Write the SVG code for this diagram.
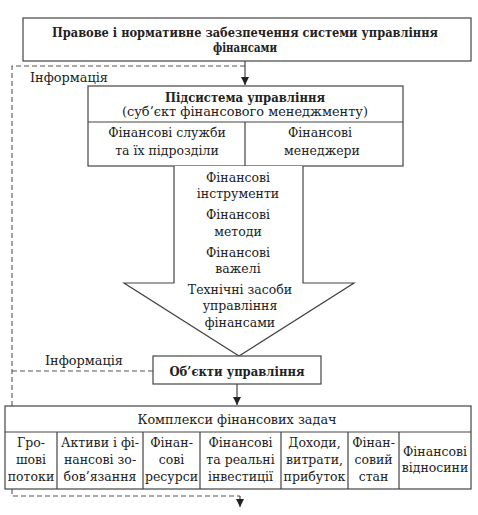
<svg xmlns="http://www.w3.org/2000/svg" width="478" height="515" viewBox="0 0 478 515">
<defs>
<marker id="ah" viewBox="0 0 10 10" refX="10" refY="5" markerWidth="8" markerHeight="8" markerUnits="userSpaceOnUse" orient="auto">
<path d="M0,0 L10,5 L0,10 z" fill="#222"/>
</marker>
<style>
text{font-family:"DejaVu Serif","Liberation Serif",serif;font-size:12.5px;fill:#222;text-anchor:middle}
.b{font-weight:bold}
.l{text-anchor:start}
.box{fill:#fff;stroke:#444;stroke-width:1.2}
.ln{fill:none;stroke:#444;stroke-width:1.2}
.dash{fill:none;stroke:#555;stroke-width:1.1;stroke-dasharray:5,3}
</style>
</defs>
<rect width="478" height="515" fill="#fff"/>

<g id="connectors">
<path class="dash" d="M12,406 V66 H245"/>
<path class="ln" d="M245,61 V85" marker-end="url(#ah)"/>
<path class="dash" d="M12,371 H153"/>
<path class="ln" d="M237,384 V405" marker-end="url(#ah)"/>
<path class="dash" d="M12,489 V496 H240"/>
<path class="ln" d="M240,496 V507" marker-end="url(#ah)"/>
<text class="l" x="30" y="82" textLength="78" lengthAdjust="spacingAndGlyphs">Інформація</text>
<text class="l" x="45" y="365" textLength="78" lengthAdjust="spacingAndGlyphs">Інформація</text>
</g>

<g id="legal">
<rect class="box" x="23" y="18" width="448" height="43"/>
<text class="b" x="245" y="37" textLength="386" lengthAdjust="spacingAndGlyphs">Правове і нормативне забезпечення системи управління</text>
<text class="b" x="245" y="52" textLength="64" lengthAdjust="spacingAndGlyphs">фінансами</text>
</g>

<g id="subsystem">
<rect class="box" x="88" y="86" width="315" height="80"/>
<line class="ln" x1="88" y1="122" x2="403" y2="122"/>
<line class="ln" x1="245" y1="122" x2="245" y2="166"/>
<text class="b" x="245" y="102" textLength="160" lengthAdjust="spacingAndGlyphs">Підсистема управління</text>
<text x="245" y="116" textLength="246" lengthAdjust="spacingAndGlyphs">(суб’єкт фінансового менеджменту)</text>
<text x="167" y="137">Фінансові служби</text>
<text x="167" y="155">та їх підрозділи</text>
<text x="320" y="137">Фінансові</text>
<text x="322" y="155">менеджери</text>
</g>

<g id="tools">
<path class="box" d="M174,166 V283 H124 L239,356 L354,283 H303 V166"/>
<text x="238" y="182">Фінансові</text>
<text x="238" y="198">інструменти</text>
<text x="238" y="219">Фінансові</text>
<text x="238" y="236">методи</text>
<text x="238" y="257">Фінансові</text>
<text x="238" y="273">важелі</text>
<text x="240" y="294">Технічні засоби</text>
<text x="240" y="310">управління</text>
<text x="240" y="327">фінансами</text>
</g>

<g id="objects">
<rect class="box" x="153" y="356" width="168" height="28"/>
<text class="b" x="237" y="376" textLength="135" lengthAdjust="spacingAndGlyphs">Об’єкти управління</text>
</g>

<g id="tasks">
<rect class="box" x="5" y="406" width="466" height="83"/>
<line class="ln" x1="5" y1="432" x2="471" y2="432"/>
<path class="ln" d="M57,432 V489 M143,432 V489 M200,432 V489 M281,432 V489 M348,432 V489 M399,432 V489"/>
<text x="237" y="424" textLength="199" lengthAdjust="spacingAndGlyphs">Комплекси фінансових задач</text>
<text x="31" y="447">Гро-</text>
<text x="31" y="464">шові</text>
<text x="31" y="481">потоки</text>
<text x="100" y="447">Активи і фі-</text>
<text x="100" y="464">нансові зо-</text>
<text x="100" y="481">бов’язання</text>
<text x="171.5" y="447">Фінан-</text>
<text x="171.5" y="464">сові</text>
<text x="171.5" y="481">ресурси</text>
<text x="240.5" y="447">Фінансові</text>
<text x="240.5" y="464">та реальні</text>
<text x="240.5" y="481">інвестиції</text>
<text x="314.5" y="447">Доходи,</text>
<text x="314.5" y="464">витрати,</text>
<text x="314.5" y="481">прибуток</text>
<text x="373.5" y="447">Фінан-</text>
<text x="373.5" y="464">совий</text>
<text x="373.5" y="481">стан</text>
<text x="435" y="456">Фінансові</text>
<text x="435" y="472">відносини</text>
</g>
</svg>
